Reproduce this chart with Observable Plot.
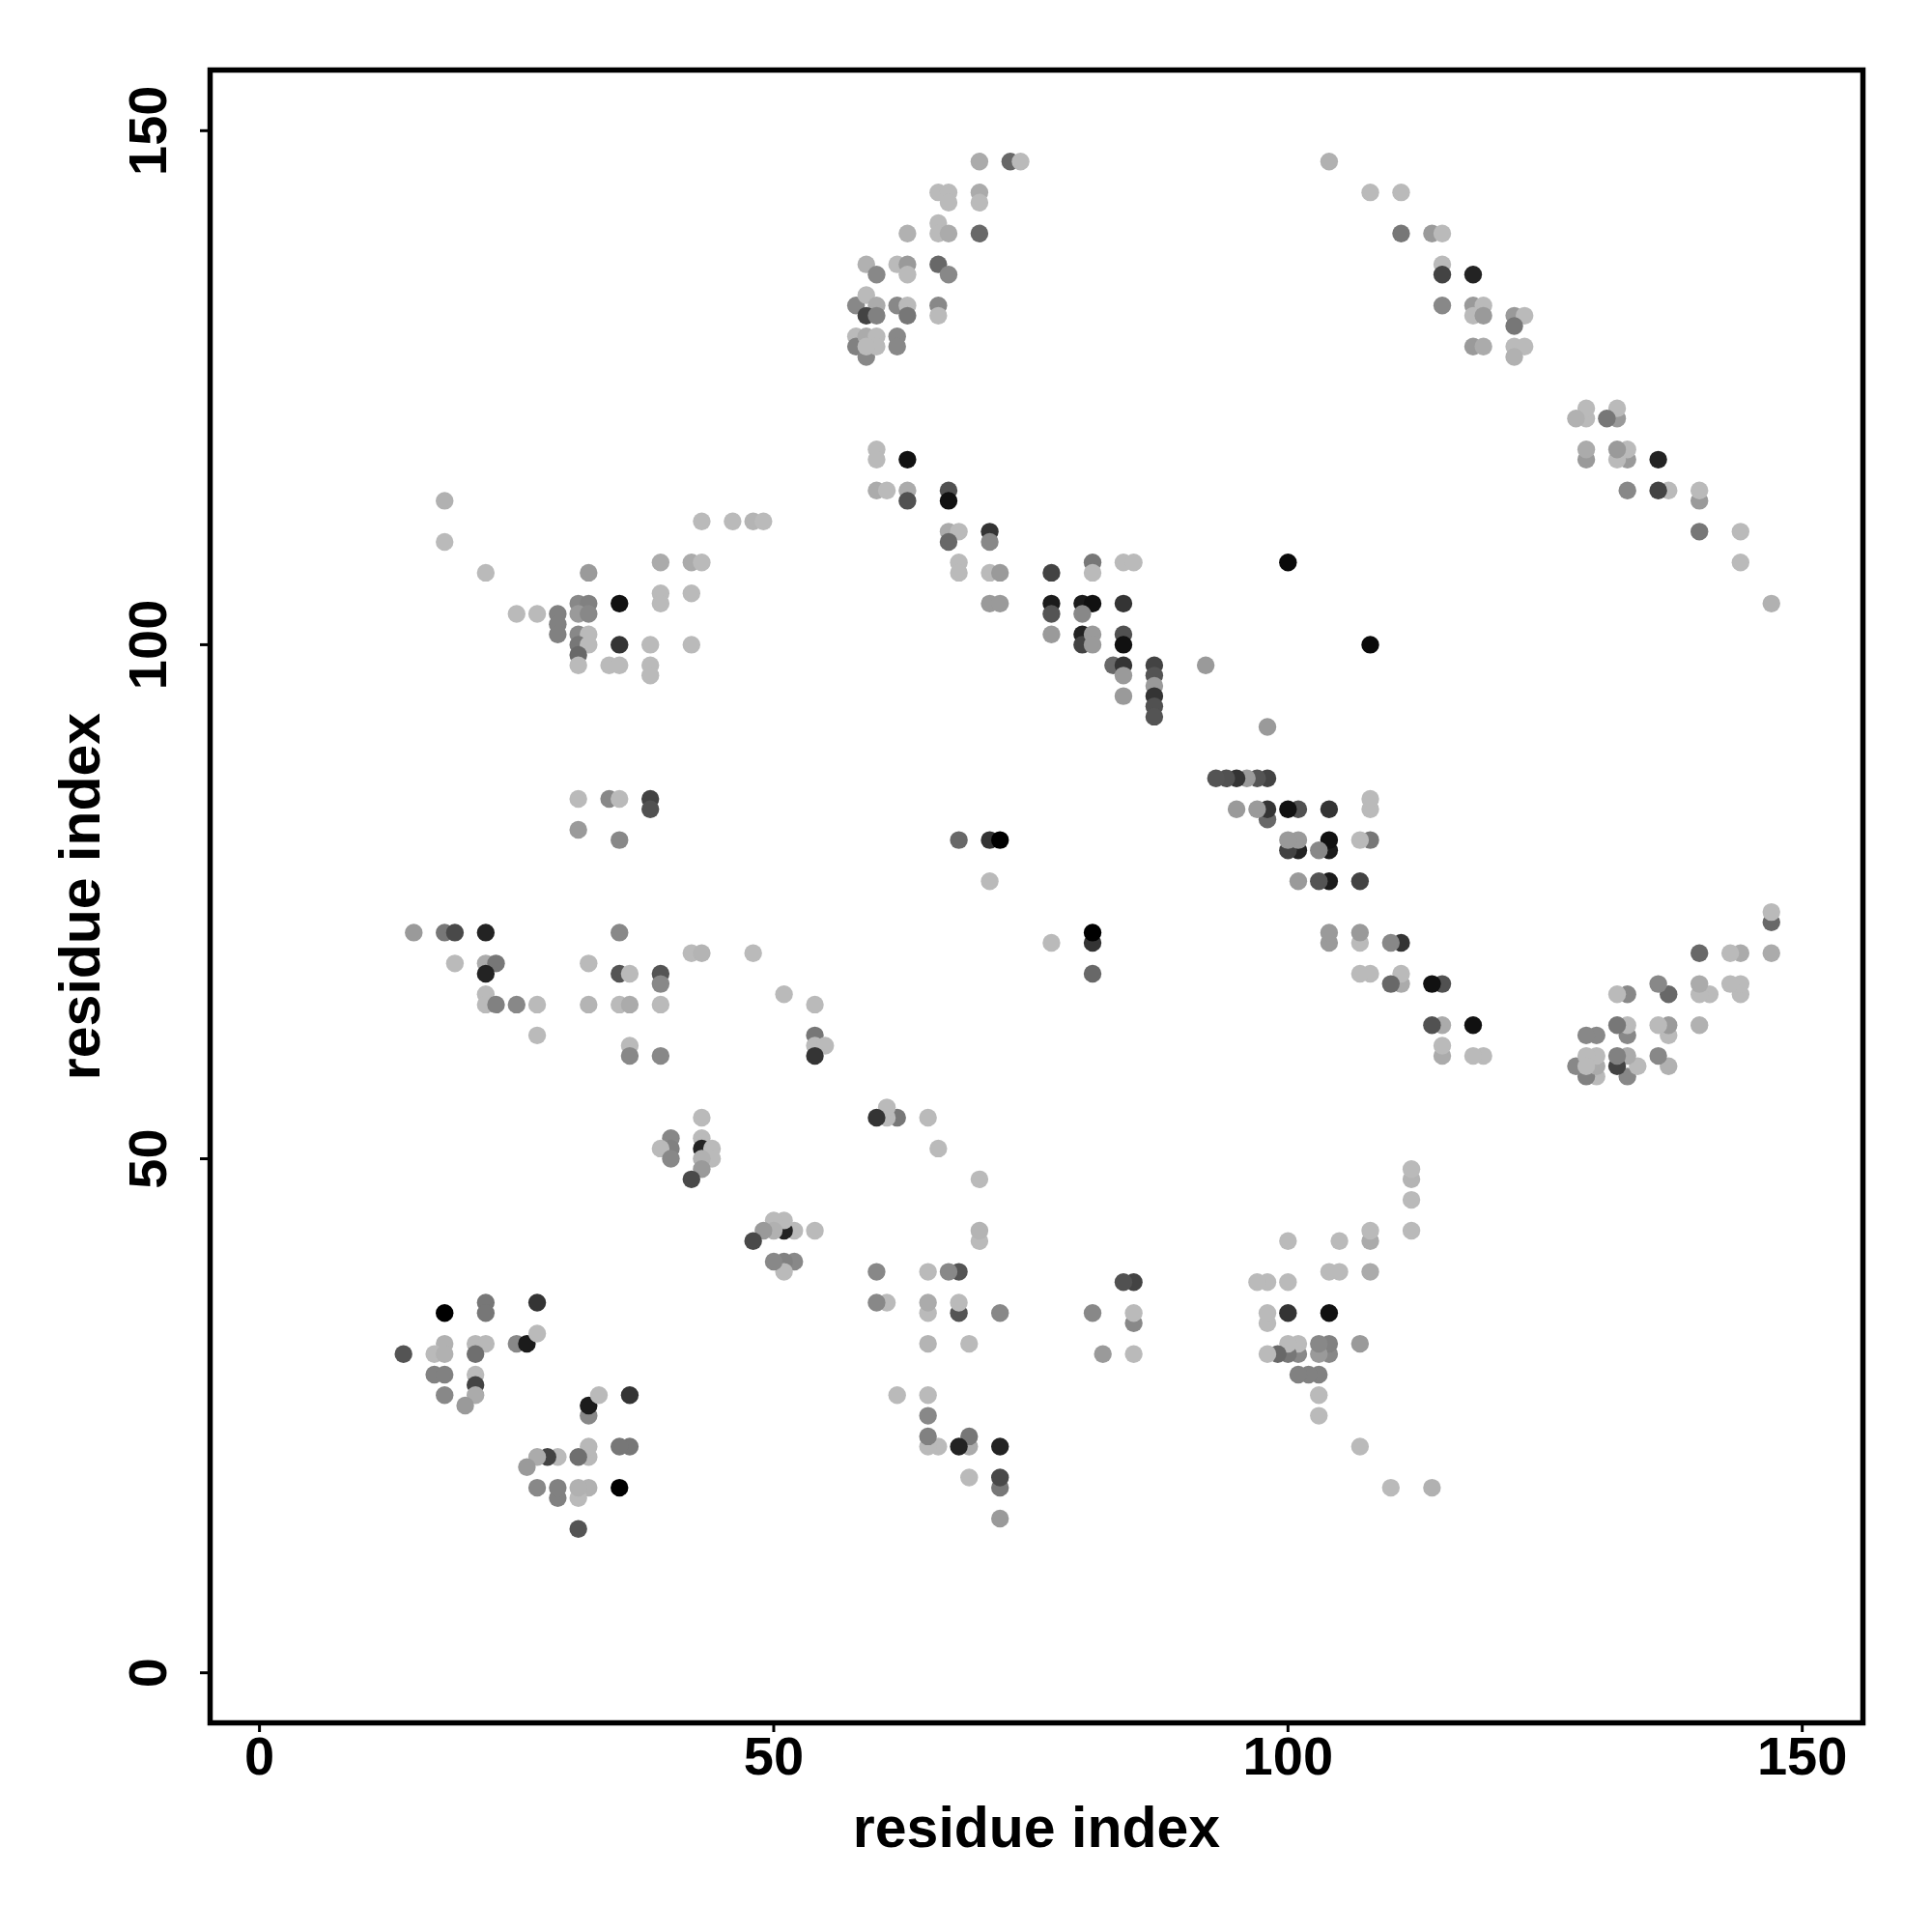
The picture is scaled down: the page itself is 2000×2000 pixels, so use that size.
<!DOCTYPE html>
<html>
<head>
<meta charset="utf-8">
<script src="https://cdn.jsdelivr.net/npm/d3@7"></script>
<script src="https://cdn.jsdelivr.net/npm/@observablehq/plot@0.6"></script>
<style>
  html, body { margin: 0; padding: 0; background: #ffffff; }
</style>
</head>
<body>
<div id="chart"></div>
<script>
// Contacts (residue i, residue j, contact score 0..1) read from the upper half (j > i);
// the contact map is symmetric, so every pair is drawn as (i, j) and (j, i).
const clusterA = [
  [14,31,0.56],[18,35,1.00],[22,36,0.38],[22,35,0.38],[27,36,0.73],[18,32,0.08],[17,31,0.03],
  [18,31,0.08],[21,32,0.04],[22,32,0.04],[21,31,0.42],[25,32,0.29],[26,32,0.86],[27,33,0.03],
  [17,29,0.33],[18,29,0.33],[18,27,0.29],[21,29,0.03],[21,28,0.65],[21,27,0.11],[20,26,0.20]
];
const clusterB = [
  [43,54,0.03],[40,52,0.29],[40,51,0.33],[39,51,0.03],[40,50,0.29],[43,52,0.03],
  [43,51,0.82],[44,51,0.03],[44,50,0.03],[43,50,0.08],[43,49,0.20],[42,48,0.62]
];
const clusterC = [
  [15,72,0.20],[18,72,0.38],[19,72,0.62],[22,72,0.82],[19,69,0.03],[22,69,0.11],[23,69,0.38],
  [22,68,0.82],[22,66,0.03],[22,65,0.03],[23,65,0.33],[25,65,0.29],[27,65,0.03],[27,62,0.03],
  [32,69,0.03],[35,72,0.29],[35,68,0.56],[36,68,0.03],[39,68,0.56],[39,67,0.29],[32,65,0.06],
  [35,65,0.03],[36,65,0.11],[39,65,0.03],[36,61,0.03],[36,60,0.29],[39,60,0.29],[42,70,0.03],
  [43,70,0.06],[48,70,0.03],[51,66,0.03],[54,65,0.03],[54,62,0.38],[54,61,0.03],[55,61,0.03],
  [54,60,0.73]
];
const clusterD = [
  [31,85,0.03],[34,85,0.29],[35,85,0.03],[38,85,0.65],[38,84,0.58],[31,82,0.20],[35,81,0.29]
];
const clusterE = [
  [18,114,0.08],[18,110,0.03],[22,107,0.03],[25,103,0.03],[27,103,0.03],[29,103,0.33],
  [29,102,0.33],[29,101,0.33],[31,104,0.29],[32,104,0.33],[31,103,0.20],[32,103,0.29],
  [32,107,0.20],[35,104,0.91],[31,101,0.29],[32,101,0.03],[31,100,0.38],[32,100,0.03],
  [31,99,0.46],[31,98,0.03],[35,100,0.73],[34,98,0.03],[35,98,0.03],[38,100,0.03],[38,98,0.03],
  [38,97,0.03],[39,108,0.11],[42,108,0.11],[43,108,0.03],[39,105,0.03],[39,104,0.03],
  [42,105,0.03],[42,100,0.03],[43,112,0.03],[46,112,0.03],[48,112,0.06],[49,112,0.03]
];
const clusterF = [
  [70,147,0.11],[73,147,0.46],[74,147,0.03],[66,144,0.03],[67,144,0.03],[67,143,0.03],
  [70,144,0.11],[70,143,0.03],[63,140,0.08],[66,141,0.03],[66,140,0.03],[67,140,0.11],
  [70,140,0.46],[59,137,0.08],[60,136,0.29],[62,137,0.03],[63,137,0.20],[63,136,0.03],
  [66,137,0.46],[67,136,0.29],[58,133,0.29],[59,134,0.03],[60,133,0.11],[59,132,0.65],
  [60,132,0.33],[62,133,0.29],[63,133,0.03],[63,132,0.38],[66,133,0.29],[66,132,0.03],
  [58,130,0.03],[58,129,0.33],[59,130,0.11],[59,128,0.29],[60,130,0.03],[60,129,0.03],
  [59,129,0.03],[62,130,0.29],[62,129,0.29]
];
const clusterG = [
  [60,119,0.03],[60,118,0.03],[63,118,0.91],[60,115,0.11],[61,115,0.03],[63,115,0.11],
  [63,114,0.58],[67,115,0.58],[67,114,0.91],[67,111,0.11],[68,111,0.03],[67,110,0.46],
  [71,111,0.73],[71,110,0.29],[68,108,0.03],[68,107,0.03],[71,107,0.03],[72,107,0.20],
  [71,104,0.20],[72,104,0.20],[77,107,0.65],[77,104,0.86],[77,103,0.56],[77,101,0.20],
  [81,108,0.38],[81,107,0.03],[84,108,0.03],[85,108,0.03],[80,104,0.86],[81,104,0.91],
  [80,103,0.29],[84,104,0.73],[80,101,0.82],[80,100,0.65],[81,101,0.20],[81,100,0.20],
  [84,101,0.58],[84,100,0.91],[83,98,0.46],[84,98,0.73],[84,97,0.20],[84,95,0.20],
  [87,98,0.65],[87,97,0.56],[87,96,0.20],[87,95,0.73],[87,94,0.58],[87,93,0.56],
  [92,98,0.20],[100,108,0.95],[68,81,0.46],[71,81,0.73],[72,81,1.00],[71,77,0.03]
];
const clusterH = [
  [104,147,0.08],[108,144,0.03],[111,144,0.03],[111,140,0.38],[114,140,0.20],[115,140,0.03],
  [115,137,0.03],[115,136,0.65],[118,136,0.82],[115,133,0.29],[118,133,0.20],[119,133,0.03],
  [118,132,0.03],[119,132,0.20],[122,132,0.20],[123,132,0.03],[122,131,0.38],[118,129,0.20],
  [119,129,0.11],[122,129,0.03],[123,129,0.03],[122,128,0.08]
];
const xTicks = [0, 50, 100, 150];
const yTicks = [0, 50, 100, 150];
const xLabel = "residue index";
const yLabel = "residue index";

const pairs = [].concat(clusterA, clusterB, clusterC, clusterD, clusterE, clusterF, clusterG, clusterH);
const points = [];
for (const [i, j, s] of pairs) {
  points.push({x: i, y: j, score: s});
  points.push({x: j, y: i, score: s});
}

const font = "'Liberation Sans', Arial, Helvetica, sans-serif";
const chart = Plot.plot({
  width: 2000,
  height: 2000,
  marginLeft: 217,
  marginRight: 72,
  marginTop: 72,
  marginBottom: 217,
  x: {domain: [-4.8, 155.9], label: null},
  y: {domain: [-4.87, 155.9], label: null},
  color: {type: "linear", domain: [0, 1], range: ["#c0c0c0", "#000000"]},
  style: {fontFamily: font, fontWeight: "bold", background: "#ffffff", color: "black"},
  marks: [
    Plot.dot(points, {x: "x", y: "y", fill: "score", r: 9.2}),
    Plot.frame({stroke: "black", strokeWidth: 5.5}),
    Plot.axisX(xTicks, {anchor: "bottom", tickSize: 10, tickPadding: 4, strokeWidth: 3,
      fontSize: 56, fontWeight: "bold", label: null, tickFormat: d => String(d)}),
    Plot.axisY(yTicks, {anchor: "left", tickSize: 10, tickPadding: 36, tickRotate: -90, strokeWidth: 3,
      fontSize: 56, fontWeight: "bold", label: null, tickFormat: d => String(d)}),
    Plot.text([xLabel], {frameAnchor: "bottom", dy: 128, lineAnchor: "bottom", textAnchor: "middle",
      fontSize: 59, fontWeight: "bold", fill: "black"}),
    Plot.text([yLabel], {frameAnchor: "left", rotate: -90, dx: -115, lineAnchor: "bottom", textAnchor: "middle",
      fontSize: 59, fontWeight: "bold", fill: "black"})
  ]
});
document.getElementById("chart").appendChild(chart);
</script>
</body>
</html>
